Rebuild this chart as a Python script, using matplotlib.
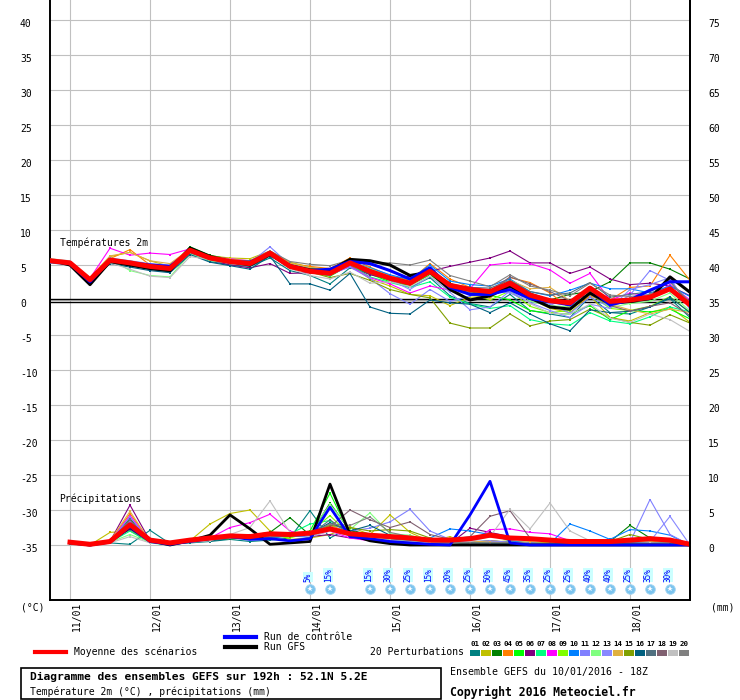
import matplotlib
matplotlib.use("Agg")
import matplotlib.pyplot as plt
from matplotlib.lines import Line2D
from matplotlib.patches import Rectangle
from matplotlib.transforms import ScaledTranslation

plt.rcParams['font.family'] = ['DejaVu Sans Mono']

# ---------------- data ----------------
T_HOURS = list(range(0, 193, 6))      # 10/01 18Z + h
P_HOURS = list(range(6, 193, 6))
DAY_TICKS = [6, 30, 54, 78, 102, 126, 150, 174]
DAY_LABELS = ["11/01", "12/01", "13/01", "14/01", "15/01", "16/01", "17/01", "18/01"]

MEMBER_COLORS = ["#008080", "#c0c000", "#008000", "#ff8000", "#00ff00", "#800080",
                 "#00ff80", "#ff00ff", "#80ff00", "#0080ff", "#8080ff", "#80ff80",
                 "#8888ff", "#e0b040", "#80a000", "#006080", "#507080", "#806070",
                 "#c0c0c0", "#808080"]

t_mean = [5.6, 5.3, 2.9, 5.7, 5.3, 4.8, 4.5, 7.1, 6.0, 5.5, 5.2, 6.7, 4.8, 4.1, 3.8, 5.3, 4.1,
          3.1, 2.4, 4.1, 2.1, 1.5, 1.2, 2.4, 0.7, -0.1, -0.4, 1.7, -0.2, 0.0, 0.4, 1.6, -0.7]
t_gfs = [5.7, 5.0, 2.2, 5.5, 5.0, 4.5, 4.2, 7.4, 6.2, 5.5, 5.0, 6.5, 4.9, 4.3, 4.2, 5.8, 5.6,
         5.0, 3.5, 4.0, 1.5, 0.0, 0.6, 2.0, 0.3, -1.0, -1.3, 1.0, -0.5, -0.2, 0.2, 3.3, 1.1]
t_ctrl = [5.6, 5.2, 2.6, 5.8, 5.3, 5.0, 4.8, 7.0, 6.0, 5.4, 5.4, 6.6, 4.7, 4.2, 4.4, 5.5, 5.2,
          4.2, 3.0, 4.6, 1.8, 0.8, 0.8, 1.5, 0.2, -0.2, -0.7, 1.7, -0.7, 0.0, 1.4, 2.6, 2.6]

t_m01 = [5.8, 5.4, 2.7, 5.3, 5.0, 4.4, 4.0, 6.8, 5.5, 5.0, 4.8, 6.0, 4.2, 3.5, 2.3, 4.6, 3.8, 2.8, 1.8, 3.2, 0.6, -0.5, -1.0, 0.8, -1.5, -2.0, -2.5, 0.5, -1.8, -2.0, -1.0, 0.2, -2.5]
t_m02 = [5.9, 5.5, 3.0, 6.2, 6.8, 5.6, 4.8, 7.0, 6.3, 6.0, 5.9, 7.0, 5.4, 4.7, 4.2, 5.0, 3.0, 2.0, 0.8, 0.6, -0.8, 0.4, 0.5, 1.8, 0.2, -1.2, -1.8, 0.6, -2.5, -3.0, -1.8, -1.0, -3.2]
t_m03 = [5.6, 5.3, 3.0, 5.9, 5.5, 5.1, 4.7, 7.6, 6.4, 5.8, 5.4, 6.8, 5.0, 4.3, 4.0, 5.5, 4.5, 3.3, 2.6, 4.4, 2.4, 1.2, 0.6, 2.8, 1.0, 0.0, 0.8, 1.2, 2.6, 5.3, 5.3, 4.4, 3.0]
t_m04 = [5.5, 5.2, 2.8, 5.9, 7.2, 5.0, 4.6, 7.2, 6.2, 5.7, 5.5, 6.9, 5.2, 4.8, 4.5, 6.0, 4.7, 3.5, 2.8, 5.2, 3.0, 1.8, 1.0, 3.2, 2.5, 1.0, -1.2, 0.5, 0.0, 1.8, 2.0, 6.4, 2.8]
t_m05 = [5.4, 5.1, 2.5, 5.5, 5.2, 4.7, 4.6, 7.0, 6.1, 5.5, 5.2, 6.4, 4.8, 4.1, 3.4, 5.0, 3.7, 2.6, 2.1, 3.6, 1.6, 1.3, 0.7, 0.0, -1.5, -1.9, -2.0, -0.8, -2.8, -1.5, -1.7, -1.3, -2.7]
t_m06 = [5.5, 5.2, 2.8, 5.4, 5.0, 4.4, 4.2, 6.8, 5.7, 5.0, 4.6, 5.2, 3.8, 3.9, 4.4, 4.8, 3.6, 3.0, 3.4, 4.1, 4.8, 5.4, 6.0, 7.0, 5.3, 5.3, 3.8, 4.7, 3.0, 2.2, 2.4, 2.0, 0.6]
t_m07 = [5.6, 5.3, 2.9, 5.6, 5.2, 4.6, 4.3, 7.0, 5.9, 5.3, 5.0, 6.5, 4.6, 3.9, 3.5, 5.0, 3.3, 2.5, 1.8, 2.6, 0.4, -0.6, -1.2, -0.8, -2.8, -3.4, -3.6, -1.8, -3.0, -3.4, -2.4, -1.0, -1.7]
t_m08 = [5.6, 5.3, 3.1, 7.4, 6.4, 6.7, 6.5, 7.3, 6.1, 5.9, 5.6, 7.0, 5.1, 4.1, 3.6, 4.8, 3.2, 2.3, 1.0, 2.0, 1.4, 1.6, 5.0, 5.3, 5.2, 4.3, 2.4, 3.8, 0.0, 1.0, 0.5, 2.2, 0.0]
t_m09 = [5.6, 5.2, 2.6, 5.8, 5.6, 4.9, 4.4, 7.2, 6.0, 5.7, 5.4, 6.6, 4.9, 4.4, 3.9, 5.2, 4.0, 3.3, 2.6, 3.9, 2.0, 0.9, 0.0, 1.3, -0.9, -1.8, -1.5, 0.9, -1.2, -1.5, -0.9, 0.5, -1.8]
t_m10 = [5.3, 5.0, 2.4, 5.4, 4.9, 4.4, 4.2, 6.7, 5.6, 5.3, 5.2, 6.3, 4.7, 4.0, 3.8, 5.4, 4.6, 3.6, 2.9, 5.0, 2.7, 2.2, 2.0, 3.0, 1.2, 0.6, 1.4, 2.4, 1.6, 1.6, 1.0, 2.0, 0.5]
t_m11 = [5.5, 5.1, 2.7, 5.5, 5.1, 4.6, 4.3, 6.9, 5.8, 5.4, 5.3, 7.6, 5.0, 4.2, 3.7, 4.7, 3.1, 0.9, -0.6, 1.5, -0.2, 0.6, 1.4, 1.0, -0.3, -0.5, -1.9, 0.4, -1.0, 0.7, 4.2, 2.8, -0.8]
t_m12 = [5.6, 5.3, 3.0, 5.9, 4.2, 3.5, 3.3, 6.6, 5.6, 5.3, 5.1, 6.8, 5.2, 4.6, 4.2, 5.5, 4.5, 3.3, 2.5, 4.6, 2.2, 1.6, 1.1, 2.3, -0.2, -0.8, -1.0, 1.4, -1.1, -0.5, -0.2, 1.0, -1.6]
t_m13 = [5.7, 5.4, 3.1, 6.0, 5.6, 5.2, 5.0, 7.2, 6.2, 5.6, 5.4, 6.7, 5.1, 4.6, 4.1, 5.4, 4.3, 2.9, 1.5, 3.4, 1.1, -1.4, -1.0, 1.3, -0.4, -1.5, -2.5, -0.6, -1.2, 1.5, 2.2, 3.2, -1.4]
t_m14 = [5.8, 5.5, 3.2, 6.3, 6.8, 5.6, 5.2, 7.3, 6.3, 5.8, 5.6, 6.9, 5.3, 4.6, 4.0, 5.3, 4.2, 3.2, 2.2, 4.0, 1.4, 0.8, 0.2, 2.8, 1.6, 1.8, -0.1, 1.5, -0.6, -1.4, -2.0, -1.3, -1.8]
t_m15 = [5.6, 5.3, 2.8, 5.6, 5.2, 4.7, 4.4, 7.0, 5.9, 5.4, 5.2, 6.5, 4.7, 4.0, 3.2, 3.8, 2.8, 1.5, 0.8, 0.3, -3.3, -4.0, -4.0, -2.0, -3.7, -3.0, -2.8, -1.3, -2.5, -3.2, -3.6, -2.1, -3.3]
t_m16 = [5.4, 5.1, 2.4, 5.2, 4.7, 4.2, 3.9, 6.5, 5.4, 4.9, 4.4, 6.3, 2.3, 2.3, 1.4, 3.8, -1.0, -1.9, -2.0, 0.0, -0.4, -0.6, -1.8, -0.4, -2.0, -3.4, -4.4, -1.4, -1.8, -1.6, -1.0, 0.4, -1.8]
t_m17 = [5.7, 5.4, 3.0, 5.7, 5.4, 4.9, 4.6, 7.1, 6.1, 5.6, 5.3, 6.6, 4.9, 4.3, 3.9, 5.3, 4.2, 3.3, 2.6, 4.4, 2.3, 1.8, 1.7, 2.8, 1.2, 0.7, 1.0, 2.5, 0.4, 0.8, 1.2, 2.6, -0.6]
t_m18 = [5.5, 5.2, 2.7, 5.5, 5.1, 4.5, 4.3, 6.8, 5.8, 5.2, 5.0, 6.5, 4.6, 3.9, 3.7, 5.1, 3.9, 2.9, 2.2, 3.9, 1.6, 1.1, 1.3, 3.3, 2.3, 1.2, -0.1, 0.8, -0.8, -1.6, -0.9, -0.4, -2.2]
t_m19 = [5.9, 5.6, 3.1, 5.3, 4.4, 3.4, 3.2, 6.2, 5.8, 5.5, 5.3, 6.4, 4.5, 3.5, 3.0, 4.0, 2.4, 2.6, 1.9, 3.4, 1.4, 0.8, 0.6, 1.9, -0.5, -1.9, -2.0, -0.6, -2.6, -3.2, -2.0, -2.8, -4.5]
t_m20 = [5.8, 5.5, 3.0, 5.9, 5.5, 5.0, 4.6, 7.1, 6.1, 5.7, 5.6, 7.0, 5.5, 5.1, 4.9, 5.7, 5.3, 5.3, 5.0, 5.7, 3.5, 2.7, 1.9, 3.6, 2.0, 1.4, 0.6, 2.4, 0.7, 0.5, 0.8, 2.6, -0.3]

p_mean = [0.4, 0.1, 0.5, 2.9, 0.7, 0.3, 0.7, 1.0, 1.3, 1.2, 1.6, 1.5, 1.7, 2.3, 1.6, 1.4,
          1.2, 1.0, 0.7, 0.7, 0.9, 1.4, 1.0, 0.9, 0.7, 0.5, 0.5, 0.5, 0.7, 0.9, 0.7, 0.1]
p_gfs = [0.3, 0.0, 0.5, 2.5, 0.6, 0.0, 0.6, 1.4, 4.3, 2.3, 0.1, 0.3, 0.5, 8.7, 1.5, 0.6,
         0.2, 0.0, 0.0, 0.0, 0.0, 0.0, 0.0, 0.0, 0.0, 0.0, 0.0, 0.0, 0.0, 0.0, 0.0, 0.0]
p_ctrl = [0.3, 0.0, 0.4, 2.6, 0.5, 0.1, 0.5, 0.9, 1.2, 0.8, 0.9, 0.6, 0.9, 5.4, 1.2, 0.9,
          0.5, 0.3, 0.1, 0.0, 4.3, 9.1, 0.3, 0.0, 0.0, 0.0, 0.0, 0.0, 0.0, 0.0, 0.0, 0.0]

p_m01 = [0.3, 0.0, 0.3, 0.1, 2.1, 0.2, 0.3, 0.5, 0.8, 0.5, 0.7, 1.0, 4.9, 1.0, 2.5, 0.8, 0.4, 0.2, 0.0, 0.2, 0.3, 0.4, 0.3, 0.2, 0.1, 0.2, 0.3, 0.2, 0.4, 0.3, 0.5, 0.0]
p_m02 = [0.4, 0.0, 1.8, 2.0, 0.5, 0.2, 0.6, 3.0, 4.5, 5.0, 2.0, 0.8, 1.0, 1.5, 2.6, 1.5, 4.3, 1.8, 0.5, 1.2, 0.2, 0.4, 0.6, 0.3, 0.2, 0.1, 0.2, 0.3, 0.2, 1.2, 0.5, 0.0]
p_m03 = [0.3, 0.0, 0.6, 3.8, 0.4, 0.1, 0.8, 1.2, 1.0, 1.4, 1.8, 3.9, 1.4, 6.0, 2.0, 1.6, 1.0, 0.5, 0.2, 0.3, 0.4, 0.6, 0.4, 0.3, 0.2, 0.1, 0.3, 0.5, 2.8, 1.0, 0.6, 0.0]
p_m04 = [0.3, 0.0, 0.5, 4.5, 0.6, 0.2, 0.4, 0.8, 1.2, 0.9, 1.5, 1.8, 1.0, 2.8, 1.8, 1.2, 0.8, 0.4, 0.3, 0.2, 0.3, 0.6, 0.4, 0.2, 0.1, 0.2, 0.3, 0.2, 0.3, 0.4, 0.8, 0.0]
p_m05 = [0.4, 0.0, 0.6, 2.5, 0.5, 0.1, 0.5, 1.0, 0.8, 1.3, 1.1, 1.5, 2.0, 7.4, 1.5, 1.2, 1.0, 0.6, 0.4, 0.5, 0.3, 0.2, 0.5, 0.2, 0.3, 0.1, 0.2, 0.2, 0.3, 0.4, 0.2, 0.0]
p_m06 = [0.3, 0.0, 0.5, 5.7, 0.6, 0.2, 0.7, 1.0, 1.3, 1.5, 1.1, 1.4, 1.2, 1.5, 1.0, 0.8, 0.6, 0.4, 0.3, 0.2, 2.4, 1.8, 1.2, 1.0, 0.8, 0.6, 0.3, 0.5, 0.4, 0.3, 0.2, 0.0]
p_m07 = [0.2, 0.0, 0.4, 2.0, 0.3, 0.0, 0.4, 0.7, 0.9, 1.0, 0.8, 1.6, 3.0, 3.5, 1.5, 1.4, 1.2, 0.8, 0.4, 0.6, 0.3, 0.2, 0.1, 0.0, 0.1, 0.2, 0.1, 0.2, 0.3, 0.1, 0.2, 0.0]
p_m08 = [0.3, 0.0, 0.5, 4.2, 0.5, 0.1, 0.6, 1.0, 2.5, 3.2, 4.4, 2.0, 1.2, 2.0, 1.0, 0.6, 0.3, 0.2, 0.2, 0.1, 0.3, 2.2, 2.3, 1.8, 1.6, 0.6, 0.4, 0.3, 0.4, 0.3, 0.2, 0.0]
p_m09 = [0.4, 0.0, 0.5, 3.0, 0.4, 0.2, 0.5, 0.8, 1.1, 1.3, 1.4, 1.0, 1.8, 4.2, 1.4, 1.0, 0.8, 0.4, 0.6, 0.3, 0.2, 0.4, 0.3, 0.2, 0.1, 0.2, 0.1, 0.3, 0.2, 0.1, 0.2, 0.0]
p_m10 = [0.3, 0.0, 0.4, 3.5, 0.4, 0.1, 0.5, 0.8, 1.0, 1.2, 1.0, 1.3, 1.1, 2.4, 1.3, 1.2, 1.0, 0.8, 1.0, 2.3, 2.0, 1.5, 0.6, 0.3, 0.2, 3.0, 2.0, 0.8, 2.2, 2.0, 1.4, 0.0]
p_m11 = [0.3, 0.0, 0.5, 4.0, 0.4, 0.2, 0.5, 0.9, 1.2, 1.0, 1.4, 1.6, 1.5, 3.0, 2.0, 2.4, 3.3, 5.1, 2.0, 0.8, 0.4, 0.5, 0.4, 0.3, 0.2, 0.3, 0.2, 0.2, 0.4, 6.5, 1.5, 0.0]
p_m12 = [0.4, 0.0, 0.4, 1.5, 0.4, 0.1, 0.4, 0.8, 1.0, 1.2, 1.3, 1.5, 1.8, 5.8, 2.2, 4.6, 1.6, 1.4, 0.6, 0.4, 0.2, 0.3, 0.3, 0.2, 0.2, 0.1, 0.2, 0.4, 0.3, 0.2, 0.3, 0.0]
p_m13 = [0.3, 0.0, 0.4, 3.3, 0.4, 0.1, 0.4, 0.8, 1.0, 1.1, 1.2, 1.4, 1.2, 2.6, 1.6, 1.2, 0.9, 0.6, 0.4, 0.3, 0.5, 0.6, 0.4, 0.2, 0.3, 0.2, 0.1, 0.2, 0.3, 0.5, 4.1, 0.0]
p_m14 = [0.3, 0.0, 0.6, 4.8, 0.5, 0.2, 0.5, 0.9, 1.1, 1.0, 1.2, 1.3, 1.5, 3.0, 1.2, 0.8, 0.6, 0.4, 0.5, 1.0, 0.6, 0.4, 0.3, 0.5, 0.3, 0.2, 0.1, 0.3, 0.6, 0.4, 0.5, 0.0]
p_m15 = [0.3, 0.0, 0.5, 2.8, 0.4, 0.1, 0.4, 0.7, 0.9, 1.2, 1.4, 1.2, 1.8, 2.8, 2.5, 2.0, 2.2, 2.0, 1.0, 0.5, 0.3, 0.2, 0.1, 0.2, 0.3, 0.2, 0.2, 0.5, 1.5, 0.8, 0.5, 0.0]
p_m16 = [0.3, 0.0, 0.4, 3.0, 0.5, 0.1, 0.4, 0.6, 0.9, 1.0, 1.2, 1.4, 1.6, 3.2, 2.0, 2.8, 1.4, 0.8, 0.5, 0.4, 0.3, 0.2, 0.3, 0.2, 0.2, 0.1, 0.1, 0.2, 0.3, 0.3, 0.2, 0.0]
p_m17 = [0.3, 0.0, 0.5, 2.2, 0.4, 0.1, 0.5, 0.7, 1.0, 0.9, 1.1, 1.3, 1.4, 3.6, 1.5, 1.3, 0.9, 0.6, 0.4, 0.3, 0.2, 0.3, 0.2, 0.2, 0.1, 0.2, 0.2, 0.3, 0.2, 0.2, 0.3, 0.0]
p_m18 = [0.3, 0.0, 0.4, 3.6, 0.4, 0.1, 0.5, 0.8, 1.1, 1.3, 1.2, 1.4, 1.6, 2.6, 5.0, 3.6, 2.5, 3.3, 1.5, 0.8, 1.2, 4.1, 4.9, 1.0, 0.5, 0.4, 0.3, 0.2, 0.3, 0.2, 0.1, 0.0]
p_m19 = [0.3, 0.0, 0.3, 1.2, 0.3, 0.1, 0.4, 0.6, 1.5, 2.5, 6.3, 1.8, 1.2, 2.0, 1.3, 1.0, 0.7, 0.5, 0.3, 0.2, 0.5, 1.2, 5.1, 2.3, 6.0, 2.0, 0.6, 0.3, 0.2, 0.3, 0.2, 0.0]
p_m20 = [0.3, 0.0, 0.4, 2.5, 0.4, 0.1, 0.5, 0.8, 1.0, 1.1, 1.3, 1.4, 1.6, 3.0, 2.8, 4.0, 1.8, 1.2, 0.6, 0.4, 0.3, 0.3, 0.4, 0.2, 0.2, 0.3, 0.2, 0.3, 0.2, 0.2, 0.3, 0.0]

SNOW_HOURS = [78, 84, 96, 102, 108, 114, 120, 126, 132, 138, 144, 150, 156, 162, 168, 174, 180, 186]
SNOW_PCT = [5, 15, 15, 30, 25, 15, 20, 25, 50, 45, 35, 25, 25, 40, 40, 25, 35, 30]

T_MEMBERS = [t_m01, t_m02, t_m03, t_m04, t_m05, t_m06, t_m07, t_m08, t_m09, t_m10,
             t_m11, t_m12, t_m13, t_m14, t_m15, t_m16, t_m17, t_m18, t_m19, t_m20]
P_MEMBERS = [p_m01, p_m02, p_m03, p_m04, p_m05, p_m06, p_m07, p_m08, p_m09, p_m10,
             p_m11, p_m12, p_m13, p_m14, p_m15, p_m16, p_m17, p_m18, p_m19, p_m20]

P_BASE = -35.0   # precipitation 0 mm sits at -35 on the temperature scale

# ---------------- figure ----------------
W, H = 740, 700
fig = plt.figure(figsize=(W / 100, H / 100), dpi=100)
fig.patch.set_facecolor("white")


def fx(x):
    return x / W


def fy(y):
    return 1 - y / H


ax = fig.add_axes([fx(50), fy(600), 640 / W, 600 / H])
YLO, YHI = -300 / 7, 300 / 7
ax.set_xlim(0, 192)
ax.set_ylim(YLO, YHI)

ax.set_yticks(list(range(-35, 45, 5)))
ax.set_xticks(DAY_TICKS)
ax.grid(True, color="#c0c0c0", lw=0.8)
ax.set_axisbelow(True)
ax.tick_params(length=0)
ax.set_yticklabels([str(v) for v in range(-35, 45, 5)], fontsize=7)
ax.tick_params(axis="y", pad=21.6)
off = ScaledTranslation(0, -0.03, fig.dpi_scale_trans)
for lab in ax.get_yticklabels():
    lab.set_horizontalalignment("left")
    lab.set_transform(lab.get_transform() + off)
ax.set_xticklabels(DAY_LABELS, rotation=90, fontsize=7, va="top", ha="center")
ax.tick_params(axis="x", pad=1.5)
xoff = ScaledTranslation(0.07, 0, fig.dpi_scale_trans)
for lab in ax.get_xticklabels():
    lab.set_transform(lab.get_transform() + xoff)

for s in ["left", "bottom", "right"]:
    ax.spines[s].set_color("black")
    ax.spines[s].set_linewidth(1.4)
ax.spines["top"].set_visible(False)

ax2 = ax.twinx()
ax2.set_ylim(YLO - P_BASE, YHI - P_BASE)
ax2.set_yticks(list(range(0, 80, 5)))
ax2.set_yticklabels([str(v) for v in range(0, 80, 5)], fontsize=7)
ax2.tick_params(length=0, pad=13)
for lab in ax2.get_yticklabels():
    lab.set_transform(lab.get_transform() + off)
for s in ["left", "top", "bottom"]:
    ax2.spines[s].set_visible(False)
ax2.spines["right"].set_color("black")
ax2.spines["right"].set_linewidth(1.4)

# zero double line
ax.axhline(0.2, color="black", lw=1.0, zorder=2)
ax.axhline(-0.25, color="black", lw=1.0, zorder=2)

# members
for vals, col in zip(T_MEMBERS, MEMBER_COLORS):
    ax.plot(T_HOURS, vals, color=col, lw=0.8, marker="s", ms=1.6, mew=0, zorder=3)
for vals, col in zip(P_MEMBERS, MEMBER_COLORS):
    ax.plot(P_HOURS, [P_BASE + v for v in vals], color=col, lw=0.8, marker="s", ms=1.6,
            mew=0, zorder=3)

# GFS, control, mean
ax.plot(T_HOURS, t_gfs, color="black", lw=2.2, zorder=4)
ax.plot(P_HOURS, [P_BASE + v for v in p_gfs], color="black", lw=2.0, zorder=4)
ax.plot(T_HOURS, t_ctrl, color="#0000ff", lw=2.2, zorder=5)
ax.plot(P_HOURS, [P_BASE + v for v in p_ctrl], color="#0000ff", lw=2.0, zorder=5)
ax.plot(T_HOURS, t_mean, color="#ff0000", lw=3.6, zorder=6)
ax.plot(P_HOURS, [P_BASE + v for v in p_mean], color="#ff0000", lw=3.6, zorder=6)

# snow icons
icon_y = (300 - 589) / 7
text_y = (300 - 582) / 7
for h, pct in zip(SNOW_HOURS, SNOW_PCT):
    ax.plot([h], [icon_y], marker="o", ms=7, color="#7cc4ee", mec="#a8d8f4", mew=0.6, zorder=7)
    ax.plot([h], [icon_y], marker="*", ms=4, color="white", mew=0, zorder=8)
    ax.text(h - 0.5, text_y, f"{pct}%", rotation=90, fontsize=5.5, color="#0000ff",
            ha="center", va="bottom", zorder=8,
            bbox=dict(facecolor="#ccffff", edgecolor="none", pad=0.3))

# inner labels
fig.text(fx(60), fy(243), "Températures 2m", fontsize=7, va="center", ha="left")
fig.text(fx(59), fy(499), "Précipitations", fontsize=7, va="center", ha="left")

# unit labels
fig.text(fx(21), fy(607), "(°C)", fontsize=7, va="center", ha="left")
fig.text(fx(711), fy(607), "(mm)", fontsize=7, va="center", ha="left")

# legend lines
fig.add_artist(Line2D([fx(35), fx(66)], [fy(652), fy(652)], color="#ff0000", lw=3.0))
fig.text(fx(74), fy(652), "Moyenne des scénarios", fontsize=7, va="center", ha="left")
fig.add_artist(Line2D([fx(225), fx(256)], [fy(637), fy(637)], color="#0000ff", lw=3.0))
fig.text(fx(264), fy(637), "Run de contrôle", fontsize=7, va="center", ha="left")
fig.add_artist(Line2D([fx(225), fx(256)], [fy(647), fy(647)], color="black", lw=3.0))
fig.text(fx(264), fy(647), "Run GFS", fontsize=7, va="center", ha="left")
fig.text(fx(370), fy(652), "20 Perturbations", fontsize=7, va="center", ha="left")

for i, col in enumerate(MEMBER_COLORS):
    x0 = 470 + 11 * i
    fig.add_artist(Rectangle((fx(x0), fy(656)), 10 / W, 6 / H, facecolor=col,
                             edgecolor="none", transform=fig.transFigure))
    fig.text(fx(x0 + 5), fy(644), f"{i + 1:02d}", fontsize=5.3, fontweight="bold",
             va="center", ha="center")

# bottom box
fig.add_artist(Rectangle((fx(20.5), fy(699)), 420 / W, 31.5 / H, facecolor="none",
                         edgecolor="black", lw=1.2, transform=fig.transFigure))
fig.text(fx(30), fy(677), "Diagramme des ensembles GEFS sur 192h : 52.1N 5.2E",
         fontsize=8.1, fontweight="bold", va="center", ha="left")
fig.text(fx(30), fy(692), "Température 2m (°C) , précipitations (mm)",
         fontsize=7, va="center", ha="left")
fig.text(fx(450), fy(672), "Ensemble GEFS du 10/01/2016 - 18Z",
         fontsize=7.1, va="center", ha="left")
fig.text(fx(450), fy(692), "Copyright 2016 Meteociel.fr",
         fontsize=8.3, fontweight="bold", va="center", ha="left")

fig.savefig("out.png", dpi=100, facecolor="white")
